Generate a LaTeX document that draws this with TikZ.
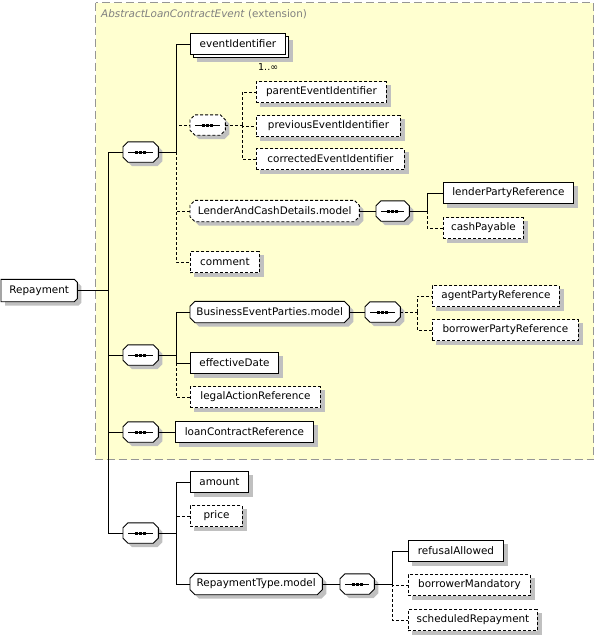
\documentclass[tikz,border=0pt]{standalone}
\usepackage{fontspec}
\setmainfont{DejaVu Sans}
\definecolor{extfill}{RGB}{255,255,208}
\definecolor{extborder}{RGB}{150,150,150}
\definecolor{shadowgray}{RGB}{192,192,192}
\definecolor{titlegray}{RGB}{128,128,128}
\pgfdeclarelayer{backlayer}
\pgfdeclarelayer{shadowlayer}
\pgfdeclarelayer{shapelayer}
\pgfsetlayers{backlayer,shadowlayer,shapelayer,main}
\tikzset{
  lbl/.style={inner sep=0pt, anchor=west, minimum height=21pt, font=\fontsize{10.4}{12}\selectfont},
  elem/.style={lbl, rectangle, draw, fill=white, line width=0.9pt},
  octn/.style={lbl, rectangle},
  optl/.style={dash pattern=on 3pt off 2pt},
  conn/.style={line width=0.9pt},
  outl/.style={draw, fill=white, line width=0.9pt},
}
% chamfered outline around a node: #1 name, #2 chamfer, #3 xshift, #4 yshift
\newcommand\chamfpath[4]{%
  ([xshift=#3+#2, yshift=#4]#1.north west) -- ([xshift=#3-#2, yshift=#4]#1.north east) --
  ([xshift=#3, yshift=#4-#2]#1.north east) -- ([xshift=#3, yshift=#4+#2]#1.south east) --
  ([xshift=#3-#2, yshift=#4]#1.south east) -- ([xshift=#3+#2, yshift=#4]#1.south west) --
  ([xshift=#3, yshift=#4+#2]#1.south west) -- ([xshift=#3, yshift=#4-#2]#1.north west) -- cycle}
\newcommand\octo[3][]{%
  \begin{pgfonlayer}{shadowlayer}
    \fill[shadowgray] \chamfpath{#2}{#3}{4pt}{-4pt};
  \end{pgfonlayer}
  \begin{pgfonlayer}{shapelayer}
    \path[outl, #1] \chamfpath{#2}{#3}{0pt}{0pt};
  \end{pgfonlayer}}
\newcommand\seqsym[1]{%
  \draw[line width=0.9pt] ([xshift=5pt]#1.west) -- ([xshift=-5pt]#1.east);
  \foreach \dx in {-4,0,4}
    \fill ([xshift=\dx pt-1.5pt, yshift=-1.5pt]#1.center) rectangle ([xshift=\dx pt+1.5pt, yshift=1.5pt]#1.center);}
\newcommand\rshadow[1]{%
  \begin{pgfonlayer}{shadowlayer}
    \fill[shadowgray] ([xshift=4pt, yshift=-4pt]#1.south west) rectangle ([xshift=4pt, yshift=-4pt]#1.north east);
  \end{pgfonlayer}}
\newcommand\reppath[2]{%
  ([xshift=#1, yshift=#2]rep.north west) -- ([xshift=#1-3pt, yshift=#2]rep.north east) --
  ([xshift=#1, yshift=#2-3pt]rep.north east) -- ([xshift=#1, yshift=#2+3pt]rep.south east) --
  ([xshift=#1-3pt, yshift=#2]rep.south east) -- ([xshift=#1, yshift=#2]rep.south west) -- cycle}
\begin{document}
\begin{tikzpicture}[x=1pt,y=-1pt]
\useasboundingbox (0,0) rectangle (595,635);
% extension box
\begin{pgfonlayer}{backlayer}
\draw[fill=extfill, draw=extborder, line width=0.9pt, dash pattern=on 8pt off 4pt] (95.5,2.5) rectangle (593.5,459.5);
\end{pgfonlayer}
\node[anchor=west, text=titlegray, font=\fontsize{10.4}{12}\selectfont, inner sep=0pt] (title) at (101,14) {\textit{AbstractLoanContractEvent} (extension)};

% root
\node[octn, minimum width=76pt, minimum height=22pt] (rep) at (1,290.5) {Repayment};
\begin{pgfonlayer}{shadowlayer}
\fill[shadowgray] \reppath{4pt}{-4pt};
\end{pgfonlayer}
\begin{pgfonlayer}{shapelayer}
\path[outl] \reppath{0pt}{0pt};
\end{pgfonlayer}

% sequences on trunk
\foreach \n/\y in {s1/152, s2/355, s3/432, s4/533}{
  \node[octn, minimum width=35pt, minimum height=20pt] (\n) at (123,\y) {};
}

% group 1
\node[elem, minimum width=95pt] (eib) at (193,47) {};
\node[elem, minimum width=95pt] (ei) at (190,44) {eventIdentifier};
\node[anchor=west, inner sep=0pt, font=\fontsize{9.5}{11}\selectfont] (eiocc) at (258,67) {1..∞};
\node[octn, minimum width=35pt, minimum height=20pt] (ch) at (190,125) {};
\node[elem, optl, minimum width=130pt] (pei) at (256,92) {parentEventIdentifier};
\node[elem, optl, minimum width=144pt] (prv) at (256,126) {previousEventIdentifier};
\node[elem, optl, minimum width=148pt] (cor) at (256,159) {correctedEventIdentifier};
\node[octn, minimum width=169pt] (ld) at (190,211) {LenderAndCashDetails.model};
\node[octn, minimum width=33pt, minimum height=20pt] (ls) at (376,211) {};
\node[elem, minimum width=130pt] (lpr) at (443,193) {lenderPartyReference};
\node[elem, optl, minimum width=80pt] (cp) at (443,228) {cashPayable};
\node[elem, optl, minimum width=69pt] (com) at (190,262) {comment};

% group 2
\node[octn, minimum width=159pt] (bep) at (190,312) {BusinessEventParties.model};
\node[octn, minimum width=35pt, minimum height=20pt] (bs) at (365,312) {};
\node[elem, optl, minimum width=127pt] (apr) at (432,296) {agentPartyReference};
\node[elem, optl, minimum width=146pt] (bpr) at (432,330) {borrowerPartyReference};
\node[elem, minimum width=88pt] (ed) at (190,363) {effectiveDate};
\node[elem, optl, minimum width=130pt] (lar) at (190,397) {legalActionReference};

% group 3
\node[elem, minimum width=138pt] (lcr) at (175,432) {loanContractReference};

% group 4
\node[elem, minimum width=58pt] (amt) at (190,482) {amount};
\node[elem, optl, minimum width=52pt] (prc) at (190,516) {price};
\node[octn, minimum width=132pt] (rtm) at (190,584) {RepaymentType.model};
\node[octn, minimum width=34pt, minimum height=20pt] (rs) at (340,584) {};
\node[elem, minimum width=95pt] (ra) at (408,551) {refusalAllowed};
\node[elem, optl, minimum width=122pt] (bm) at (408,585) {borrowerMandatory};
\node[elem, optl, minimum width=129pt] (sr) at (408,620) {scheduledRepayment};

% shapes and shadows
\foreach \n in {s1,s2,s3,s4,ls,bs,rs}{ \octo{\n}{5pt} }
\octo[optl]{ch}{5pt}
\octo[optl]{ld}{5pt}
\octo{bep}{5pt}
\octo{rtm}{5pt}
\foreach \n in {s1,s2,s3,s4,ls,bs,rs,ch}{ \seqsym{\n} }
\foreach \n in {eib,pei,prv,cor,lpr,cp,com,apr,bpr,ed,lar,lcr,amt,prc,ra,bm,sr}{ \rshadow{\n} }

% branch points
\coordinate (t) at (108,290.5);
\coordinate (b1) at (176,152);
\coordinate (bch) at (242,125);
\coordinate (bls) at (427,211);
\coordinate (b2) at (176,355);
\coordinate (bbs) at (417,312);
\coordinate (b4) at (176,533);
\coordinate (brs) at (392,584);

\begin{scope}[conn]
% trunk
\draw (rep.east) -- (t);
\draw (t) |- (s1.west);
\draw (t) |- (s2.west);
\draw (t) |- (s3.west);
\draw (t) |- (s4.west);
% seq 1
\draw (s1.east) -- (b1) |- (ei.west);
\draw[optl] (b1) |- (ch.west);
\draw[optl] (b1) |- (ld.west);
\draw[optl] (b1) |- (com.west);
\draw[optl] (ch.east) -- (bch);
\draw[optl] (bch) |- (pei.west);
\draw[optl] (bch) |- (prv.west);
\draw[optl] (bch) |- (cor.west);
\draw (ld.east) -- (ls.west);
\draw (ls.east) -- (bls) |- (lpr.west);
\draw[optl] (bls) |- (cp.west);
% seq 2
\draw (s2.east) -- (b2);
\draw (b2) |- (bep.west);
\draw (b2) |- (ed.west);
\draw[optl] (ed.west -| b2) |- (lar.west);
\draw (bep.east) -- (bs.west);
\draw[optl] (bs.east) -- (bbs);
\draw[optl] (bbs) |- (apr.west);
\draw[optl] (bbs) |- (bpr.west);
% seq 3
\draw (s3.east) -- (lcr.west);
% seq 4
\draw (s4.east) -- (b4);
\draw (b4) |- (amt.west);
\draw (b4) |- (rtm.west);
\draw[optl] (amt.west -| b4) |- (prc.west);
\draw (rtm.east) -- (rs.west);
\draw (rs.east) -- (brs) |- (ra.west);
\draw[optl] (brs) |- (bm.west);
\draw[optl] (brs) |- (sr.west);
\end{scope}
\end{tikzpicture}
\end{document}
